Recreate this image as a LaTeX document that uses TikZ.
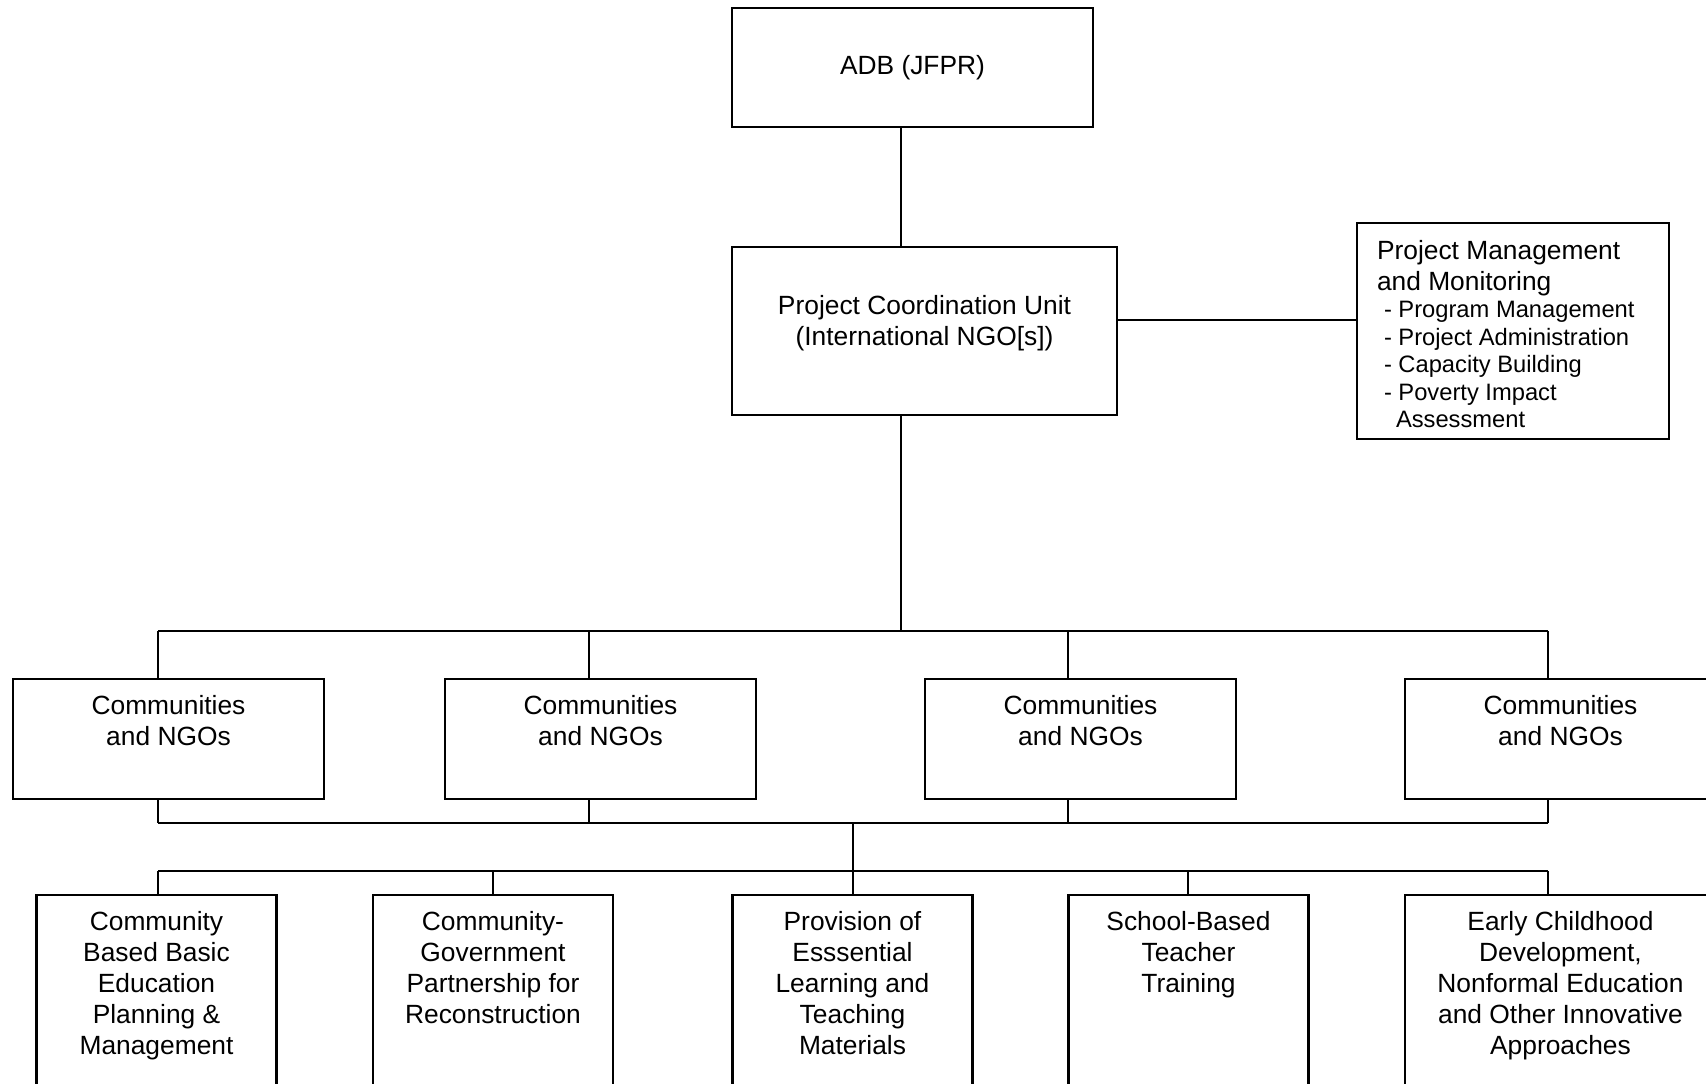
\documentclass[tikz,border=0pt]{standalone}
\usepackage{fontspec}
\setmainfont{Liberation Sans}
\usepackage{tikz}

% text block of a box: width, height, first baseline, text
\newcommand{\boxtext}[4]{\parbox[c][#2][t]{#1}{\centering\rule{0pt}{#3}#4}}

\tikzset{
  orgbox/.style={draw, line width=0.6pt, inner sep=0pt, font=\fontsize{7.5}{8.8}\selectfont},
  conn/.style={line width=0.6pt}
}

\begin{document}
\begin{tikzpicture}[x=0.1mm,y=-0.1mm]
  \useasboundingbox (0,0) rectangle (1706,1084);
  \clip (0,0) rectangle (1706,1084);

  % top of the chart
  \node[orgbox] (adb) at (912.5,67.5) {\boxtext{36.1mm}{11.9mm}{18.9pt}{ADB (JFPR)}};
  \node[orgbox] (pcu) at (924.5,331) {\boxtext{38.5mm}{16.8mm}{19.2pt}{Project Coordination Unit\\(International NGO[s])}};
  \node[orgbox] (pmm) at (1513,331) {\parbox[c][21.6mm][t]{31.2mm}{\raggedright\leftskip=2mm
      \rule{0pt}{10.4pt}Project Management\\and Monitoring\par
      \fontsize{6.75}{7.8}\selectfont\leftskip=2.7mm
      - Program Management\\- Project Administration\\- Capacity Building\\- Poverty Impact\\\hspace*{1.2mm}Assessment\par}};

  % communities row
  \node[orgbox] (com1) at (168.5,739) {\boxtext{31.1mm}{12mm}{10.1pt}{Communities\\and NGOs}};
  \node[orgbox] (com2) at (600.5,739) {\boxtext{31.1mm}{12mm}{10.1pt}{Communities\\and NGOs}};
  \node[orgbox] (com3) at (1080.5,739) {\boxtext{31.1mm}{12mm}{10.1pt}{Communities\\and NGOs}};
  \node[orgbox] (com4) at (1560.5,739) {\boxtext{31.1mm}{12mm}{10.1pt}{Communities\\and NGOs}};

  % components row
  \node[orgbox] (cbe) at (156.5,1020) {\boxtext{24mm}{25mm}{10.1pt}{Community\\Based Basic\\Education\\Planning \&\\Management}};
  \node[orgbox] (cgp) at (493,1020) {\boxtext{24mm}{25mm}{10.1pt}{Community-\\Government\\Partnership for\\Reconstruction}};
  \node[orgbox] (elt) at (852.5,1020) {\boxtext{24mm}{25mm}{10.1pt}{Provision of\\Esssential\\Learning and\\Teaching\\Materials}};
  \node[orgbox] (sbt) at (1188.5,1020) {\boxtext{24mm}{25mm}{10.1pt}{School-Based\\Teacher\\Training}};
  \node[orgbox] (ecd) at (1560.5,1020) {\boxtext{31.1mm}{25mm}{10.1pt}{Early Childhood\\Development,\\Nonformal Education\\and Other Innovative\\Approaches}};

  % spine and buses
  \coordinate (spine) at (901,631);
  \coordinate (side) at (1236,320);
  \coordinate (hub) at (853,823);
  \draw[conn] (spine |- adb.south) -- (spine |- pcu.north);
  \draw[conn] (spine |- pcu.south) -- (spine);
  \draw[conn] (side -| pcu.east) -- (side -| pmm.west);

  \coordinate (d1) at (158,631);
  \coordinate (d2) at (589,631);
  \coordinate (d3) at (1068,631);
  \coordinate (d4) at (1548,631);
  \draw[conn] (d1) -- (d4);
  \foreach \i in {1,2,3,4} {
    \draw[conn] (d\i) -- (d\i |- com\i.north);
    \draw[conn] (d\i |- com\i.south) -- (d\i |- hub);
  }
  \draw[conn] (d1 |- hub) -- (d4 |- hub);

  \coordinate (g1) at (158,871);
  \coordinate (g2) at (493,871);
  \coordinate (g3) at (853,871);
  \coordinate (g4) at (1188,871);
  \coordinate (g5) at (1548,871);
  \draw[conn] (hub) -- (g3);
  \draw[conn] (g1) -- (g5);
  \draw[conn] (g1) -- (g1 |- cbe.north);
  \draw[conn] (g2) -- (g2 |- cgp.north);
  \draw[conn] (g3) -- (g3 |- elt.north);
  \draw[conn] (g4) -- (g4 |- sbt.north);
  \draw[conn] (g5) -- (g5 |- ecd.north);
\end{tikzpicture}
\end{document}
